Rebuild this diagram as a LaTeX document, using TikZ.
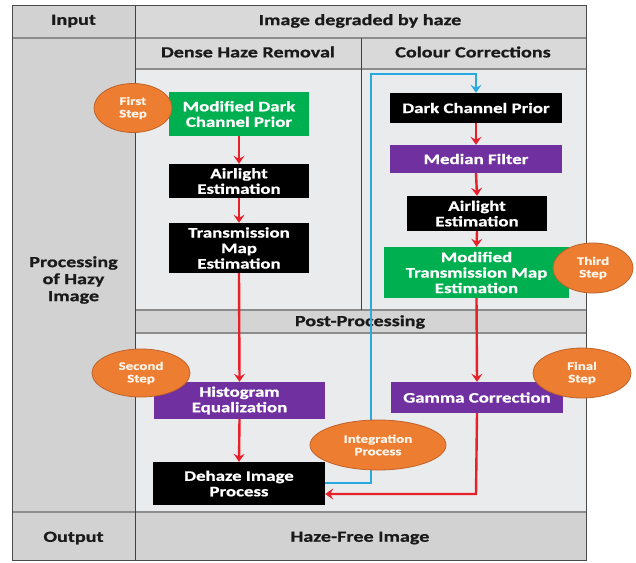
\documentclass[tikz,border=0pt]{standalone}
\usepackage{fontspec}
\setmainfont{Carlito}[FakeStretch=1.3, BoldFeatures={FakeBold=0.8}]
\usetikzlibrary{shapes.geometric,arrows.meta}
\definecolor{cellgray}{HTML}{D2D2D2}
\definecolor{headgray}{HTML}{D9D9D9}
\definecolor{panel}{HTML}{EAEBEC}
\definecolor{postbar}{HTML}{D4D4D4}
\definecolor{boxgreen}{HTML}{00B050}
\definecolor{boxpurple}{HTML}{7030A0}
\definecolor{ellorange}{HTML}{ED7D31}
\definecolor{ellborder}{HTML}{C0622A}
\definecolor{arrred}{HTML}{E8202A}
\definecolor{arrblue}{HTML}{2AA8E0}
\definecolor{rulegray}{HTML}{8C8C8C}
\definecolor{textdark}{HTML}{1A1A1A}
\tikzset{
  headtext/.style={font=\bfseries\fontsize{15.5}{17}\selectfont, text=textdark, align=center},
  procbox/.style={rectangle, inner sep=0pt, text=white, align=center,
    font=\bfseries\fontsize{14.5}{15.5}\selectfont},
  greenbox/.style={procbox, fill=boxgreen},
  blackbox/.style={procbox, fill=black},
  purplebox/.style={procbox, fill=boxpurple},
  stepell/.style={ellipse, fill=ellorange, draw=ellborder, line width=0.8pt, inner sep=0pt,
    text=white!92!orange, align=center, font=\bfseries\fontsize{11.5}{12.5}\selectfont},
  redarrow/.style={draw=arrred, line width=2.4pt, -{Stealth[length=8pt,width=11pt,inset=3pt]}},
  blueline/.style={draw=arrblue, line width=2.4pt, -{Stealth[length=8pt,width=11pt,inset=3pt]}},
}
\begin{document}
\begin{tikzpicture}[x=1pt,y=-1pt]
\useasboundingbox (0,0) rectangle (636,562);
\fill[white] (0,0) rectangle (636,562);
% table cells
\fill[cellgray] (12,5) rectangle (135,560);
\fill[headgray] (135,5) rectangle (586,69);
\fill[panel] (135,69) rectangle (586,310);
\fill[postbar] (135,310) rectangle (586,333);
\fill[panel] (135,333) rectangle (586,512);
\fill[cellgray] (135,512) rectangle (586,560);
% rules
\draw[rulegray, line width=2pt] (12,38) -- (586,38);
\draw[rulegray, line width=2pt] (135,69) -- (586,69);
\draw[rulegray, line width=1.5pt] (135,310) -- (586,310);
\draw[rulegray, line width=1.5pt] (135,333) -- (586,333);
\draw[rulegray, line width=2pt] (12,512) -- (586,512);
\draw[black!75, line width=1pt] (361,38) -- (361,310);
\draw[black!75, line width=1pt] (135,5) -- (135,560);
\draw[black!70, line width=1pt] (12,5) rectangle (586,560);
% table texts
\node[headtext] (tin) at (73.5,21) {Input};
\node[headtext] (timg) at (360,21) {Image degraded by haze};
\node[headtext] (tdense) at (248,52) {Dense Haze Removal};
\node[headtext] (tcol) at (473,52) {Colour Corrections};
\node[headtext] (tproc) at (73.5,280) {Processing\\of Hazy\\Image};
\node[headtext] (tpost) at (360,322) {Post-Processing};
\node[headtext] (tout) at (73.5,538) {Output};
\node[headtext] (thf) at (360,538) {Haze-Free Image};
% process boxes
\node[greenbox, minimum width=140pt, minimum height=44pt] (mdcp) at (239,114) {Modified Dark\\Channel Prior};
\node[blackbox, minimum width=140pt, minimum height=34pt] (air1) at (239,181) {Airlight\\Estimation};
\node[blackbox, minimum width=140pt, minimum height=50pt] (tme) at (239,248) {Transmission\\Map\\Estimation};
\node[blackbox, minimum width=172pt, minimum height=30pt] (dcp) at (476,108) {Dark Channel Prior};
\node[purplebox, minimum width=172pt, minimum height=28pt] (med) at (476,159) {Median Filter};
\node[blackbox, minimum width=140pt, minimum height=35pt] (air2) at (477,213.5) {Airlight\\Estimation};
\node[greenbox, minimum width=185pt, minimum height=51pt] (mtme) at (476.5,272.5) {Modified\\Transmission Map\\Estimation};
\node[purplebox, minimum width=171pt, minimum height=37pt] (hist) at (239.5,400.5) {Histogram\\Equalization};
\node[blackbox, minimum width=172pt, minimum height=43pt] (dehaze) at (239,483.5) {Dehaze Image\\Process};
\node[purplebox, minimum width=172pt, minimum height=31pt] (gamma) at (477,397.5) {Gamma Correction};
% red arrows
\draw[redarrow] (mdcp.south) -- (air1.north);
\draw[redarrow] (air1.south) -- (tme.north);
\draw[redarrow] (tme.south) -- (hist.north);
\draw[redarrow] (hist.south) -- (dehaze.north);
\draw[redarrow] (dcp.south) -- (med.north);
\draw[redarrow] (med.south) -- (air2.north);
\draw[redarrow] (air2.south) -- (mtme.north);
\draw[redarrow] (mtme.south) -- (gamma.north);
\coordinate (rc) at (476,494);
\draw[redarrow] (gamma.south) -- (rc) -- (rc -| dehaze.east);
% blue loop
\coordinate (b1) at (371,483);
\coordinate (b2) at (371,74);
\coordinate (b3) at (476,74);
\draw[blueline] (dehaze.east |- b1) -- (b1) -- (b2) -- (b3) -- (dcp.north);
% step ellipses
\node[stepell, minimum width=78pt, minimum height=49pt] (first) at (133,108) {First\\Step};
\node[stepell, minimum width=98pt, minimum height=48pt] (second) at (141,373) {Second\\Step};
\node[stepell, minimum width=80pt, minimum height=50pt] (third) at (593,268) {Third\\Step};
\node[stepell, minimum width=98pt, minimum height=50pt] (final) at (582,373) {Final\\Step};
\node[stepell, minimum width=136pt, minimum height=50pt] (integ) at (378,445) {Integration\\Process};
\end{tikzpicture}
\end{document}
